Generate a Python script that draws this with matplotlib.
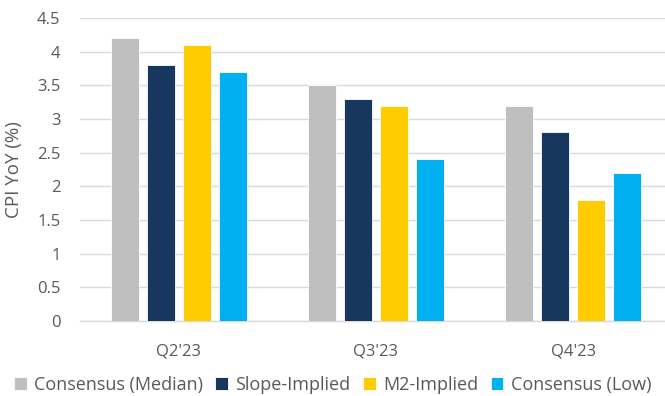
import matplotlib
matplotlib.use("Agg")
import matplotlib.pyplot as plt
import numpy as np

quarters = ["Q2'23", "Q3'23", "Q4'23"]
series_names = ["Consensus (Median)", "Slope-Implied", "M2-Implied", "Consensus (Low)"]
consensus_median = [4.2, 3.5, 3.2]
slope_implied = [3.8, 3.3, 2.8]
m2_implied = [4.1, 3.2, 1.8]
consensus_low = [3.7, 2.4, 2.2]
y_ticks = [0, 0.5, 1, 1.5, 2, 2.5, 3, 3.5, 4, 4.5]
y_tick_labels = ["0", "0.5", "1", "1.5", "2", "2.5", "3", "3.5", "4", "4.5"]

colors = ["#BFBFBF", "#17375E", "#FFCC00", "#00B0F0"]
text_color = "#595959"

plt.rcParams["font.family"] = ["Open Sans", "DejaVu Sans"]

fig = plt.figure(figsize=(6.65, 3.96), dpi=100)
ax = fig.add_axes([80 / 665, 1 - 321 / 396, 592 / 665, 303 / 396])

x = np.arange(len(quarters))
width = 0.142
step = 0.182
all_series = [consensus_median, slope_implied, m2_implied, consensus_low]
for i, (name, vals, c) in enumerate(zip(series_names, all_series, colors)):
    offs = (i - 1.5) * step
    ax.bar(x + offs, vals, width, color=c, label=name, edgecolor="white",
           linewidth=0.6, zorder=3)

ax.set_xlim(-0.5, 2.5)
ax.set_ylim(0, 4.5)
ax.set_yticks(y_ticks)
ax.set_yticklabels(y_tick_labels)
ax.set_xticks(x)
ax.set_xticklabels(quarters)
ax.tick_params(axis="both", length=0, colors=text_color, labelsize=12)
ax.tick_params(axis="x", pad=16)
ax.tick_params(axis="y", pad=14)
ax.yaxis.grid(True, color="#D9D9D9", linewidth=1.0, zorder=0)
for s in ["top", "right", "left"]:
    ax.spines[s].set_visible(False)
ax.spines["bottom"].set_color("#D9D9D9")
ax.spines["bottom"].set_linewidth(1.0)

ax.set_ylabel("CPI YoY (%)", color=text_color, fontsize=13.5, labelpad=10)

leg = fig.legend(loc="center", bbox_to_anchor=(0.5, 1 - 385 / 396), ncol=4,
                 frameon=False, fontsize=13, handlelength=0.7, handleheight=0.7,
                 handletextpad=0.4, columnspacing=0.7)
for t in leg.get_texts():
    t.set_color(text_color)

fig.savefig("out.png", dpi=100)
